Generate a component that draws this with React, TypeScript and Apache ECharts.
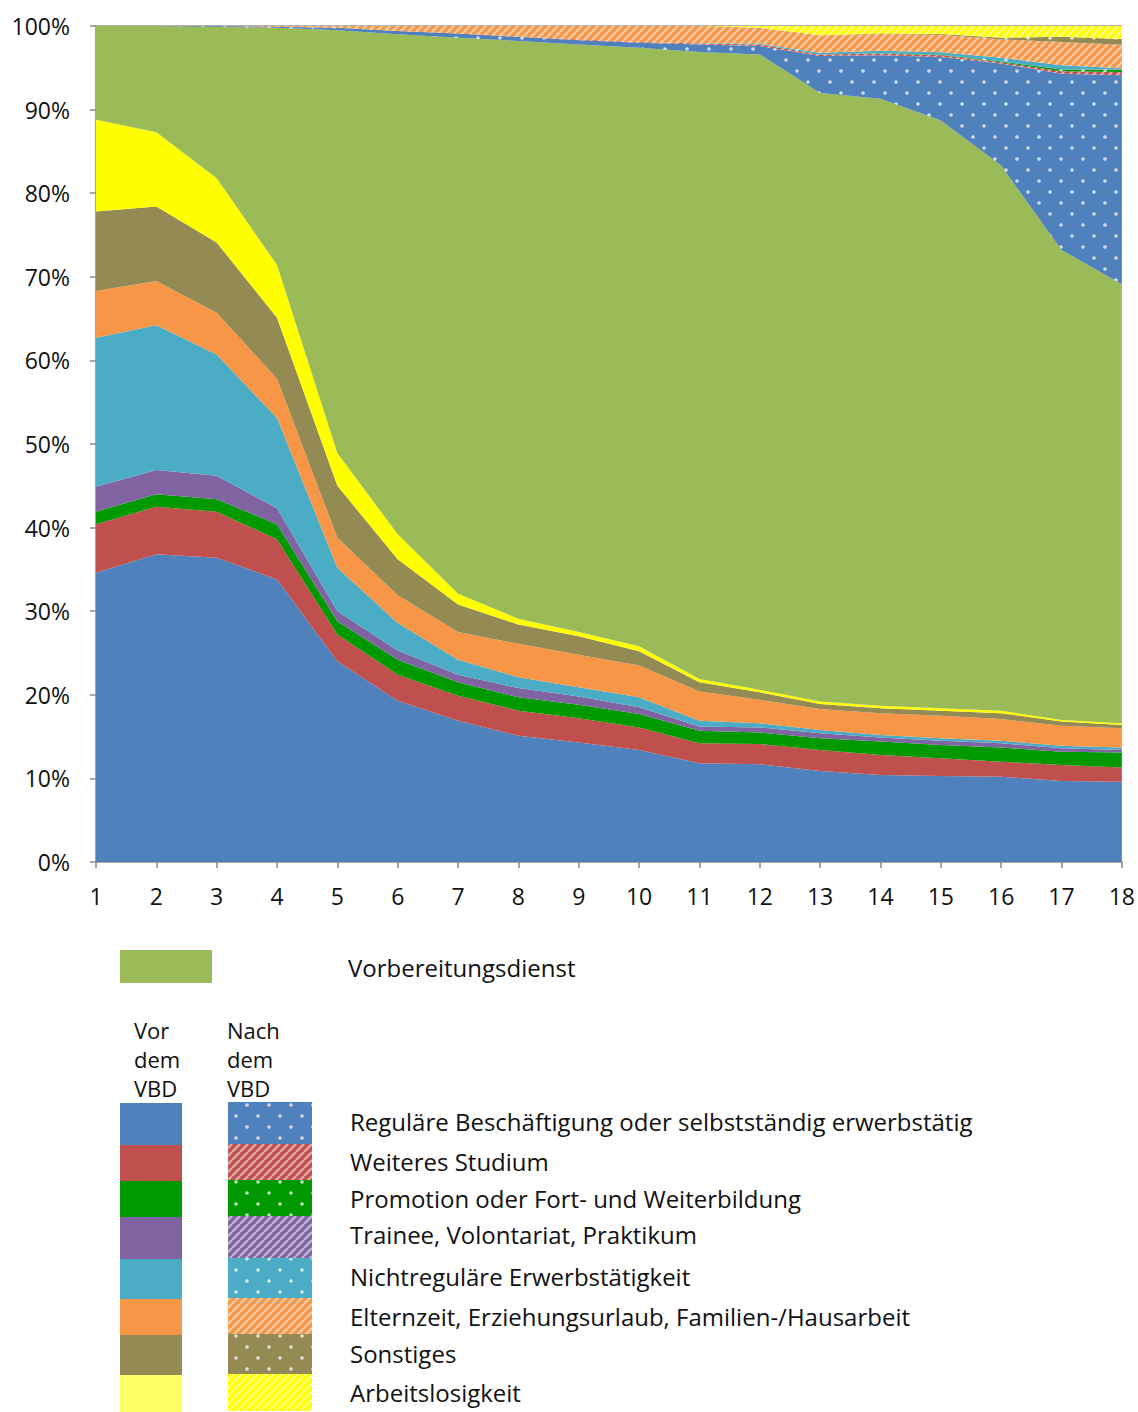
import React, { useEffect, useRef } from 'react';
import * as echarts from 'echarts';

const years = ['1', '2', '3', '4', '5', '6', '7', '8', '9', '10', '11', '12', '13', '14', '15', '16', '17', '18'];
const tickLabels = ['0%', '10%', '20%', '30%', '40%', '50%', '60%', '70%', '80%', '90%', '100%'];

const categoryNames = [
  'Reguläre Beschäftigung oder selbstständig erwerbstätig',
  'Weiteres Studium',
  'Promotion oder Fort- und Weiterbildung',
  'Trainee, Volontariat, Praktikum',
  'Nichtreguläre Erwerbstätigkeit',
  'Elternzeit, Erziehungsurlaub, Familien-/Hausarbeit',
  'Sonstiges',
  'Arbeitslosigkeit',
];
const vbdName = 'Vorbereitungsdienst';

// Before VBD (Vor dem VBD)
const beforeRegular = [34.6, 36.8, 36.4, 33.8, 24.0, 19.3, 16.9, 15.1, 14.3, 13.4, 11.8, 11.7, 10.9, 10.4, 10.3, 10.2, 9.7, 9.6];
const beforeStudy = [5.8, 5.7, 5.5, 4.8, 3.2, 3.1, 3.0, 3.0, 2.9, 2.7, 2.4, 2.4, 2.5, 2.4, 2.1, 1.8, 1.9, 1.7];
const beforePromotion = [1.5, 1.5, 1.5, 1.8, 1.6, 1.8, 1.6, 1.6, 1.6, 1.6, 1.5, 1.4, 1.4, 1.6, 1.6, 1.7, 1.6, 1.8];
const beforeTrainee = [3.0, 2.9, 2.8, 1.9, 1.2, 1.1, 0.9, 1.1, 1.0, 0.8, 0.5, 0.6, 0.6, 0.5, 0.5, 0.5, 0.4, 0.3];
const beforeIrregular = [17.8, 17.3, 14.5, 10.8, 5.2, 3.3, 1.8, 1.3, 1.1, 1.2, 0.7, 0.5, 0.4, 0.3, 0.3, 0.3, 0.3, 0.3];
const beforeParental = [5.6, 5.3, 5.0, 4.7, 3.6, 3.3, 3.3, 4.0, 3.9, 3.8, 3.5, 2.8, 2.5, 2.6, 2.7, 2.6, 2.4, 2.3];
const beforeOther = [9.5, 8.9, 8.4, 7.3, 6.2, 4.3, 3.3, 2.3, 2.2, 1.7, 1.1, 0.9, 0.6, 0.6, 0.6, 0.7, 0.5, 0.4];
const beforeUnemployed = [11.0, 8.9, 7.7, 6.3, 3.9, 3.0, 1.3, 0.7, 0.5, 0.6, 0.4, 0.3, 0.3, 0.3, 0.3, 0.3, 0.2, 0.2];

// Vorbereitungsdienst
const vbd = [11.2, 12.7, 18.1, 28.4, 50.6, 59.8, 66.5, 69.1, 70.3, 71.6, 75.0, 76.0, 72.8, 72.6, 70.3, 65.2, 56.2, 52.5];

// After VBD (Nach dem VBD)
const afterRegular = [0, 0, 0.1, 0.1, 0.3, 0.4, 0.5, 0.5, 0.5, 0.6, 0.9, 1.0, 4.4, 5.2, 7.6, 12.2, 21.1, 25.0];
const afterStudy = [0, 0, 0, 0, 0, 0, 0, 0.05, 0.1, 0.1, 0.1, 0.2, 0.2, 0.2, 0.2, 0.15, 0.3, 0.4];
const afterPromotion = [0, 0, 0, 0, 0, 0, 0, 0, 0, 0, 0, 0, 0, 0.05, 0.05, 0.1, 0.2, 0.25];
const afterTrainee = [0, 0, 0, 0, 0, 0, 0, 0, 0, 0, 0, 0, 0, 0, 0, 0, 0, 0.05];
const afterIrregular = [0, 0, 0, 0, 0, 0, 0, 0, 0, 0, 0.05, 0.1, 0.2, 0.3, 0.3, 0.45, 0.5, 0.15];
const afterParental = [0, 0, 0, 0.1, 0.2, 0.6, 0.9, 1.25, 1.6, 1.9, 2.05, 1.9, 2.1, 2.0, 2.1, 2.2, 2.8, 2.8];
const afterOther = [0, 0, 0, 0, 0, 0, 0, 0, 0, 0, 0, 0, 0, 0.05, 0.1, 0.2, 0.6, 0.7];
const afterUnemployed = [0, 0, 0, 0, 0, 0, 0, 0, 0, 0, 0, 0.2, 1.1, 0.9, 0.95, 1.4, 1.3, 1.55];

const beforeData = [beforeRegular, beforeStudy, beforePromotion, beforeTrainee, beforeIrregular, beforeParental, beforeOther, beforeUnemployed];
const afterData = [afterRegular, afterStudy, afterPromotion, afterTrainee, afterIrregular, afterParental, afterOther, afterUnemployed];

const colors = ['#4F81BD', '#C0504D', '#009900', '#8064A2', '#4BACC6', '#F79646', '#948A54', '#FFFF00'];
const legendBeforeColors = ['#4F81BD', '#C0504D', '#009900', '#8064A2', '#4BACC6', '#F79646', '#948A54', '#FFFF66'];
const patternKinds = ['dots', 'hatch', 'dots', 'hatch', 'dots', 'hatch', 'dots', 'hatch'];
const vbdColor = '#9BBB59';

const FONT = '"Open Sans", "Noto Sans", sans-serif';

function makePattern(kind: string, bg: string): any {
  const c = document.createElement('canvas');
  if (kind === 'dots') {
    c.width = 22;
    c.height = 22;
    const ctx = c.getContext('2d')!;
    ctx.fillStyle = bg;
    ctx.fillRect(0, 0, 22, 22);
    ctx.fillStyle = 'rgba(255,255,255,0.75)';
    [[5, 5], [16, 16]].forEach(([x, y]) => {
      ctx.beginPath();
      ctx.arc(x, y, 1.8, 0, Math.PI * 2);
      ctx.fill();
    });
  } else {
    c.width = 8;
    c.height = 8;
    const ctx = c.getContext('2d')!;
    ctx.fillStyle = bg;
    ctx.fillRect(0, 0, 8, 8);
    ctx.strokeStyle = 'rgba(255,255,255,0.5)';
    ctx.lineWidth = 2.4;
    for (const o of [-8, 0, 8]) {
      ctx.beginPath();
      ctx.moveTo(o, 8);
      ctx.lineTo(o + 8, 0);
      ctx.stroke();
    }
  }
  return { image: c.toDataURL(), repeat: 'repeat', imageWidth: c.width, imageHeight: c.height };
}

export default function App() {
  const ref = useRef<HTMLDivElement>(null);

  useEffect(() => {
    if (!ref.current) return;
    const chart = echarts.init(ref.current, undefined, { renderer: 'svg' });

    const patterns = colors.map((c, i) => makePattern(patternKinds[i], c));

    const areaSeries = (name: string, data: number[], fill: any) => ({
      type: 'line',
      name,
      stack: 'total',
      data,
      symbol: 'none',
      showSymbol: false,
      smooth: false,
      silent: true,
      lineStyle: { width: 0 },
      areaStyle: { color: fill, opacity: 1 },
    });

    const series: any[] = [];
    beforeData.forEach((d, i) => series.push(areaSeries('Vor: ' + categoryNames[i], d, colors[i])));
    series.push(areaSeries(vbdName, vbd, vbdColor));
    afterData.forEach((d, i) => series.push(areaSeries('Nach: ' + categoryNames[i], d, patterns[i])));

    // Legend graphic
    const graphics: any[] = [];
    graphics.push({ type: 'line', shape: { x1: 96, y1: 26, x2: 1122, y2: 26 }, style: { stroke: '#9a9a9a', lineWidth: 1.5 } });
    graphics.push({ type: 'rect', shape: { x: 120, y: 950, width: 92, height: 33 }, style: { fill: vbdColor } });
    graphics.push({ type: 'text', x: 348, y: 967, style: { text: vbdName, font: `24px ${FONT}`, fill: '#111', verticalAlign: 'middle' } });
    ['Vor', 'dem', 'VBD'].forEach((t, i) =>
      graphics.push({ type: 'text', x: 134, y: 1030 + i * 29, style: { text: t, font: `22px ${FONT}`, fill: '#111', verticalAlign: 'middle' } })
    );
    ['Nach', 'dem', 'VBD'].forEach((t, i) =>
      graphics.push({ type: 'text', x: 227, y: 1030 + i * 29, style: { text: t, font: `22px ${FONT}`, fill: '#111', verticalAlign: 'middle' } })
    );
    const rowTops = [1103, 1145, 1181, 1217, 1259, 1299, 1335, 1375];
    const rowBottoms = [1145, 1181, 1217, 1259, 1299, 1335, 1375, 1412];
    const textY = [1121, 1161, 1198, 1234, 1276, 1316, 1353, 1392];
    categoryNames.forEach((name, i) => {
      graphics.push({ type: 'rect', shape: { x: 120, y: rowTops[i], width: 62, height: rowBottoms[i] - rowTops[i] }, style: { fill: legendBeforeColors[i] } });
      graphics.push({ type: 'rect', shape: { x: 228, y: rowTops[i] - 1, width: 84, height: rowBottoms[i] - rowTops[i] }, style: { fill: patterns[i] } });
      graphics.push({ type: 'text', x: 350, y: textY[i], style: { text: name, font: `24px ${FONT}`, fill: '#111', verticalAlign: 'middle' } });
    });

    chart.setOption({
      animation: false,
      backgroundColor: '#ffffff',
      grid: { left: 96, right: 16, top: 26, bottom: 550, containLabel: false },
      xAxis: {
        type: 'category',
        boundaryGap: false,
        data: years,
        axisLine: { lineStyle: { color: '#898989', width: 1.5 } },
        axisTick: { show: true, length: 6, lineStyle: { color: '#898989', width: 1.5 } },
        axisLabel: { fontSize: 23, color: '#111', fontFamily: FONT, margin: 22 },
        splitLine: { show: false },
      },
      yAxis: {
        type: 'value',
        min: 0,
        max: 100,
        interval: 10,
        axisLine: { show: true, lineStyle: { color: '#898989', width: 1.5 } },
        axisTick: { show: true, length: 6, lineStyle: { color: '#898989', width: 1.5 } },
        axisLabel: {
          fontSize: 23,
          color: '#111',
          fontFamily: FONT,
          margin: 26,
          formatter: (v: number) => tickLabels[Math.round(v / 10)] ?? `${v}%`,
        },
        splitLine: { show: false },
      },
      series,
      graphic: graphics,
    });

    return () => chart.dispose();
  }, []);

  return <div ref={ref} style={{ position: 'absolute', left: 0, top: 0, width: 1138, height: 1412 }} />;
}
